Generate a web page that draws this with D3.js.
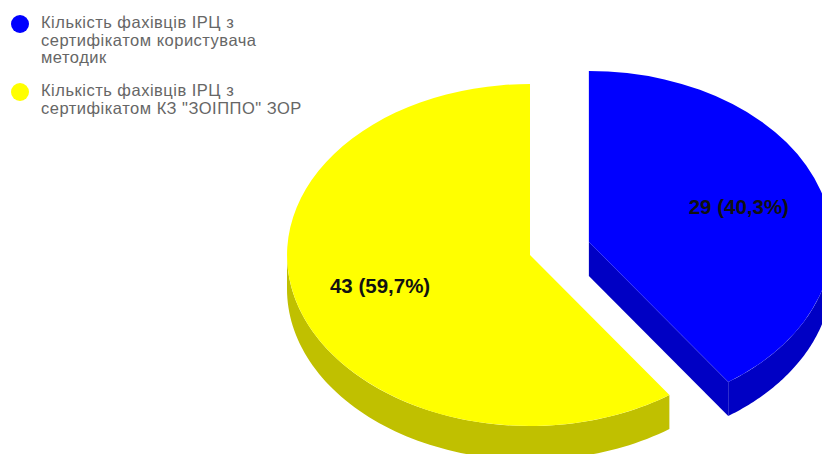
<!DOCTYPE html>
<html>
<head>
<meta charset="utf-8">
<script src="https://cdn.jsdelivr.net/npm/d3@7"></script>
<style>
  html, body { margin: 0; padding: 0; background: #fff; overflow: hidden; }
  text { font-family: "Liberation Sans", Arial, sans-serif; }
</style>
</head>
<body>
<div id="chart-container"></div>
<script>
const categories = [
  ["Кількість фахівців ІРЦ з", "сертифікатом користувача", "методик"],
  ["Кількість фахівців ІРЦ з", "сертифікатом КЗ \"ЗОІППО\" ЗОР"]
];
const values = [29, 43];
const valueLabels = ["29 (40,3%)", "43 (59,7%)"];
const colors = ["#0000ff", "#ffff00"];
const sideColors = ["#0000c4", "#c0c000"];
const explode = [0.254, 0];

const width = 822, height = 454;
const cx = 530, cy = 255;
const rx = 243, ry = 171, depth = 34;
const labelRadius = 0.647;

const svg = d3.select("#chart-container")
  .append("svg")
  .attr("width", width)
  .attr("height", height);

// slices go clockwise from 12 o'clock, same as the original
const slices = d3.pie().sort(null)(values);
// unit circle squashed to the tilted ellipse
const px = d3.scaleLinear().domain([-1, 1]).range([-rx, rx]);
const py = d3.scaleLinear().domain([-1, 1]).range([-ry, ry]);
const arc = d3.arc().innerRadius(0).outerRadius(1);

const wall = d3.area()
  .x((a) => px(Math.sin(a)))
  .y0((a) => py(-Math.cos(a)))
  .y1((a) => py(-Math.cos(a)) + depth);

const mid = (d) => (d.startAngle + d.endAngle) / 2;
const offset = (d, i) => [
  px(Math.sin(mid(d))) * explode[i],
  py(-Math.cos(mid(d))) * explode[i]
];

const groups = svg.selectAll(".slice")
  .data(slices)
  .enter()
  .append("g")
  .attr("class", "slice")
  .attr("transform", (d, i) => {
    const o = offset(d, i);
    return `translate(${cx + o[0]},${cy + o[1]})`;
  });

// outer wall, only the part turned towards the viewer
groups.append("path")
  .attr("fill", (d, i) => sideColors[i])
  .attr("d", (d) => {
    const a0 = Math.max(d.startAngle, Math.PI / 2);
    const a1 = Math.min(d.endAngle, Math.PI * 1.5);
    const n = 80;
    return wall(d3.range(n + 1).map((k) => a0 + (a1 - a0) * k / n));
  });

// cut face of the pulled out slice
groups.filter((d, i) => explode[i] > 0)
  .append("path")
  .attr("fill", (d) => sideColors[d.index])
  .attr("d", (d) => {
    const ex = px(Math.sin(d.endAngle)), ey = py(-Math.cos(d.endAngle));
    return d3.line()([[0, 0], [ex, ey], [ex, ey + depth], [0, depth]]) + "Z";
  });

// top face
groups.append("path")
  .attr("transform", `scale(${rx},${ry})`)
  .attr("fill", (d, i) => colors[i])
  .attr("d", arc);

groups.append("text")
  .attr("x", (d) => px(Math.sin(mid(d))) * labelRadius)
  .attr("y", (d) => py(-Math.cos(mid(d))) * labelRadius + 5)
  .attr("text-anchor", "middle")
  .attr("font-size", 20.5)
  .attr("font-weight", "bold")
  .attr("fill", "#111")
  .text((d, i) => valueLabels[i]);

// legend
const legendTop = [23, 91];
const legend = svg.selectAll(".legend")
  .data(categories)
  .enter()
  .append("g")
  .attr("class", "legend")
  .attr("transform", (d, i) => `translate(0,${legendTop[i]})`);

legend.append("circle")
  .attr("cx", 20)
  .attr("cy", 1)
  .attr("r", 9)
  .attr("fill", (d, i) => colors[i]);

legend.selectAll("text")
  .data((d) => d)
  .enter()
  .append("text")
  .attr("x", 41)
  .attr("y", (d, i) => 5 + i * 17.5)
  .attr("font-size", 16.5)
  .attr("letter-spacing", 0.5)
  .attr("fill", "#666")
  .text((d) => d);
</script>
</body>
</html>
